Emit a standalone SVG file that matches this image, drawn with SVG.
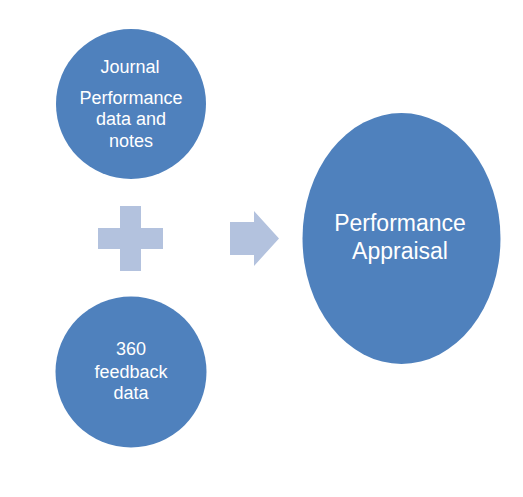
<svg xmlns="http://www.w3.org/2000/svg" width="523" height="497" viewBox="0 0 523 497">
<style>
.node{fill:#4F81BD;}
.op{fill:#B3C2DE;}
.t{font-family:"Liberation Sans",Arial,sans-serif;fill:#FFFFFF;text-anchor:middle;}
.s{font-size:18px;}
.l{font-size:23px;}
</style>
<rect width="523" height="497" fill="#FFFFFF"/>
<g id="journal">
<circle class="node" cx="131" cy="104" r="75"/>
<text class="t s" x="130" y="73">Journal</text>
<text class="t s" x="131" y="104">Performance</text>
<text class="t s" x="131" y="125">data and</text>
<text class="t s" x="131" y="147">notes</text>
</g>
<g id="feedback">
<circle class="node" cx="131" cy="372" r="75.5"/>
<text class="t s" x="131" y="355">360</text>
<text class="t s" x="131" y="377.5">feedback</text>
<text class="t s" x="131" y="399">data</text>
</g>
<g id="appraisal">
<ellipse class="node" cx="401.5" cy="238.5" rx="99" ry="125.5"/>
<text class="t l" x="400" y="231">Performance</text>
<text class="t l" x="400" y="259">Appraisal</text>
</g>
<g id="connectors">
<path id="plus" class="op" d="M120,206 H141 V228 H163 V249 H141 V271 H120 V249 H98 V228 H120 Z"/>
<path id="arrow" class="op" d="M230,222 H254 V211 L279,238.5 L254,266 V255 H230 Z"/>
</g>
</svg>
